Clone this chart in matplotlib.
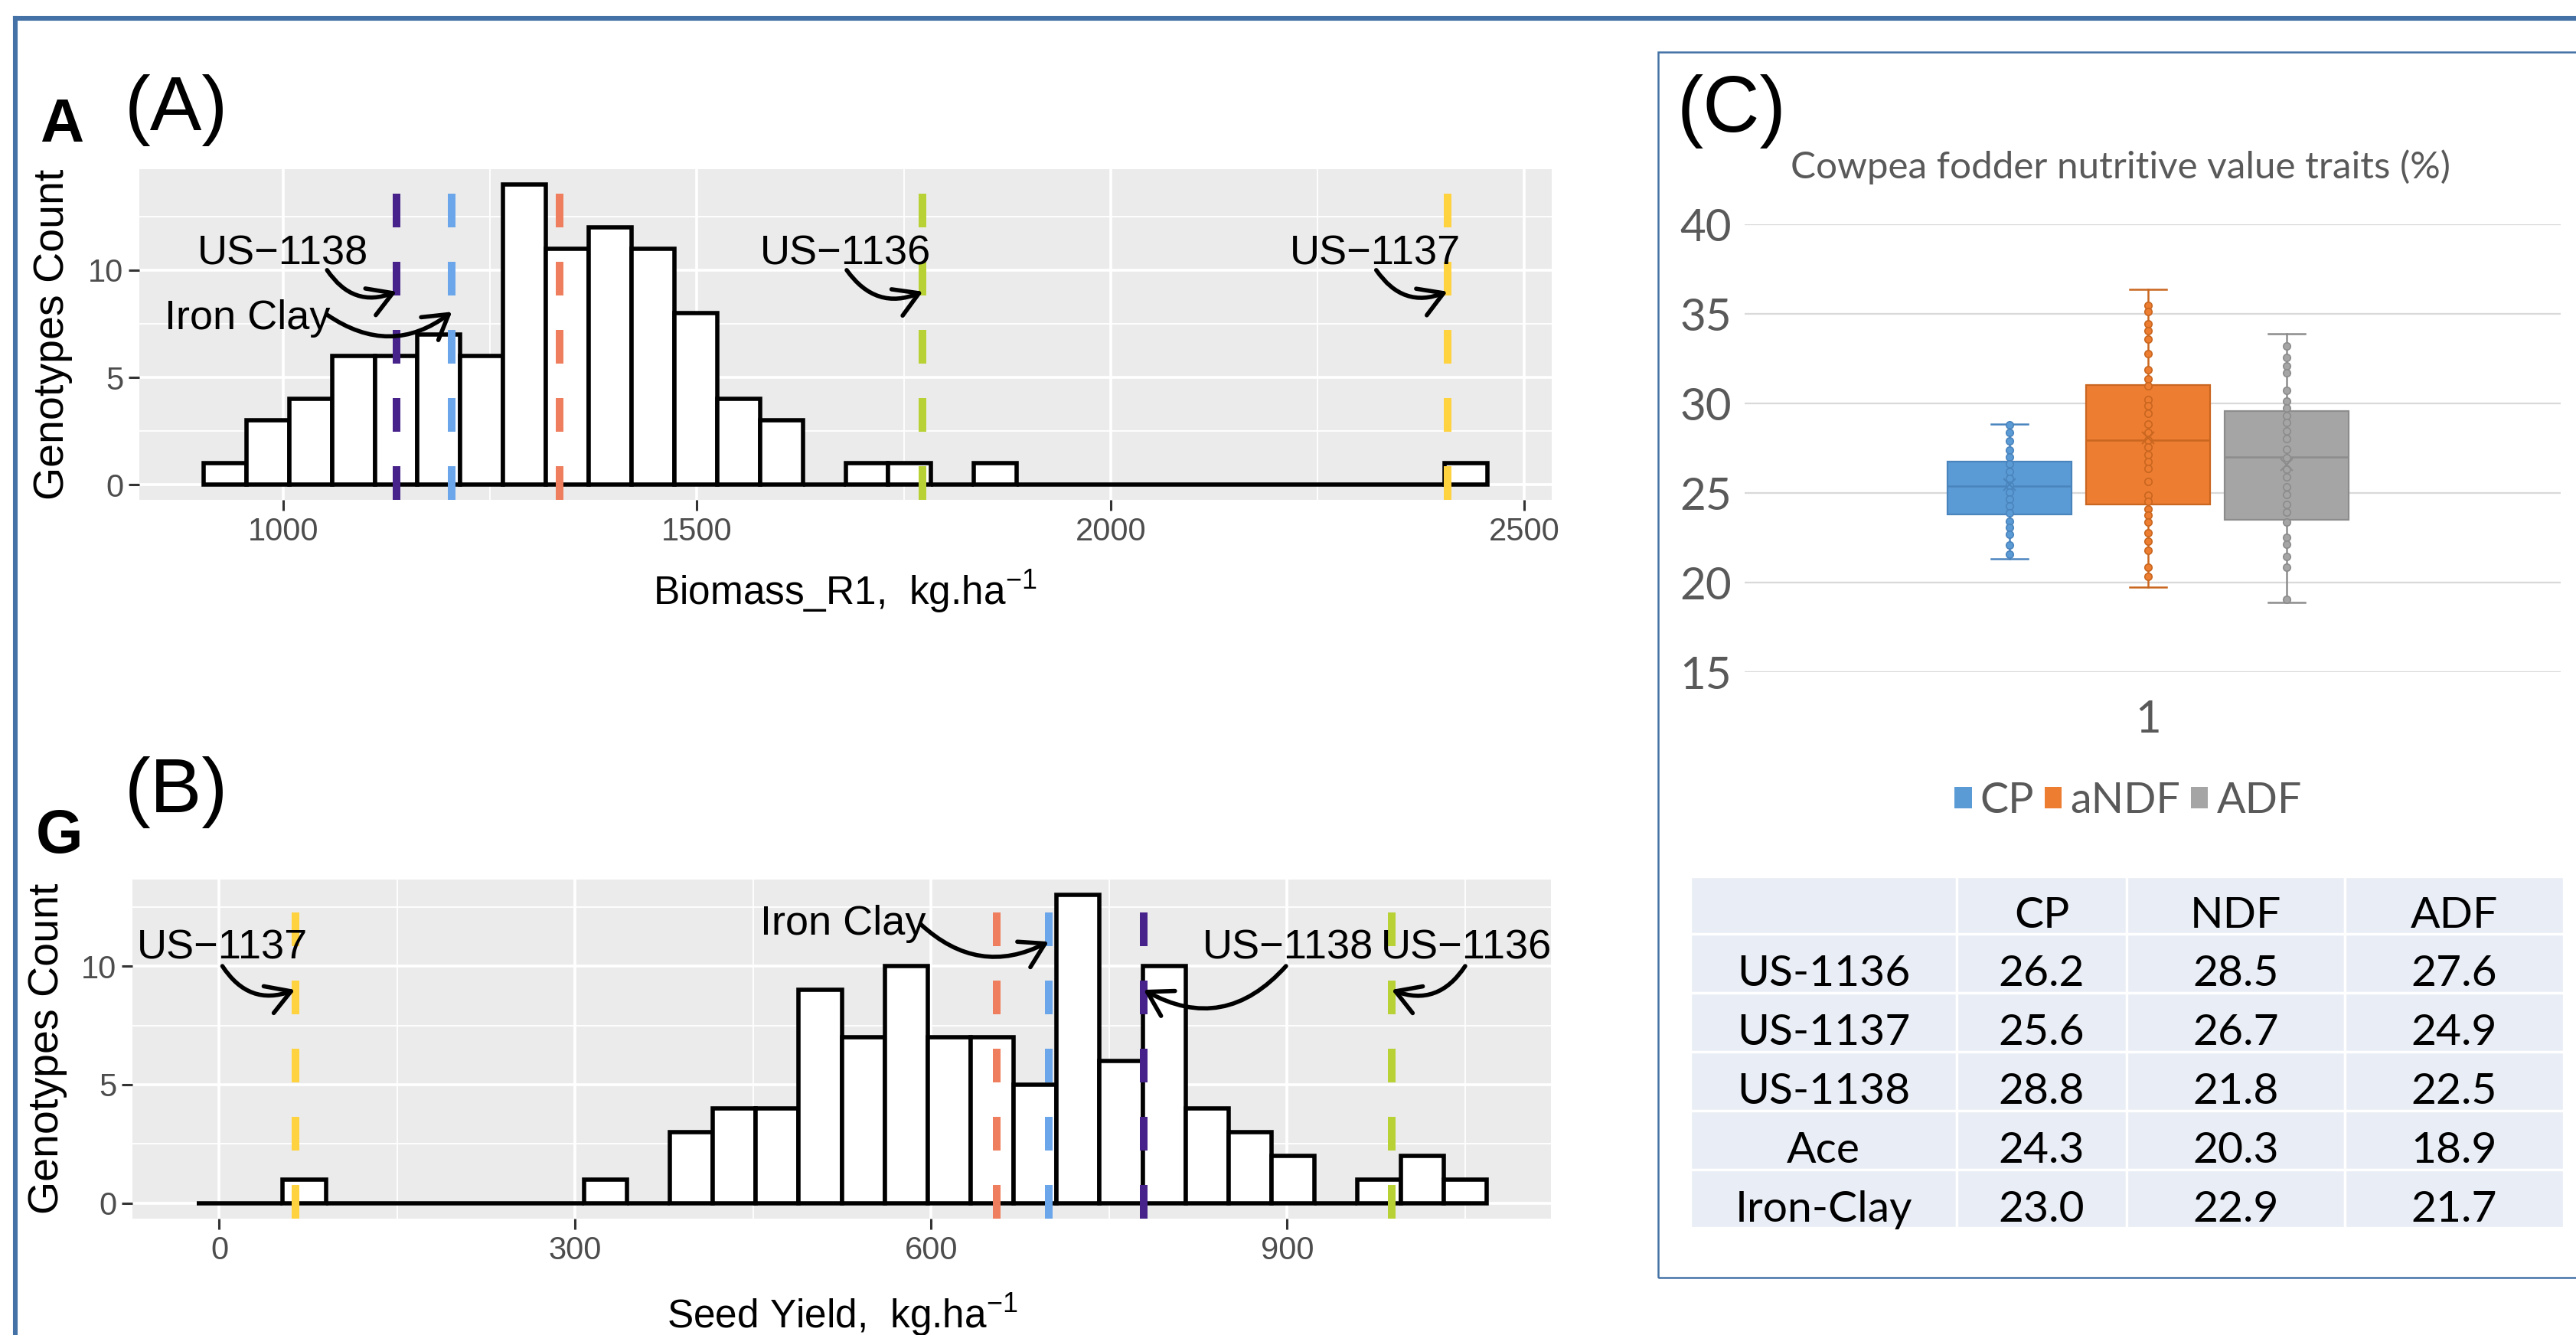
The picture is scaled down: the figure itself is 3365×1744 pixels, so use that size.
import numpy as np
import matplotlib
matplotlib.use("Agg")
import matplotlib.pyplot as plt
from matplotlib.patches import Rectangle, Patch
from matplotlib.lines import Line2D

plt.rcParams['font.family'] = ['Liberation Sans', 'DejaVu Sans']
plt.rcParams['mathtext.fontset'] = 'custom'
plt.rcParams['mathtext.rm'] = 'Liberation Sans'
plt.rcParams['mathtext.it'] = 'Liberation Sans:italic'
plt.rcParams['mathtext.bf'] = 'Liberation Sans:bold'

# ---- data -------------------------------------------------------------
genotypes = ['US-1136', 'US-1137', 'US-1138', 'Ace', 'Iron Clay']
genotype_colors = ['#B8D235', '#FFD23F', '#46228A', '#EE7E5D', '#6CA6EA']
biomass_checks = [1773, 2407, 1137, 1334, 1204]
seed_checks = [988, 64, 779, 655, 699]

biomass_start, biomass_width = 903.7, 51.73
biomass_counts = [1, 3, 4, 6, 6, 7, 6, 14, 11, 12, 11, 8, 4, 3, 0,
                  1, 1, 0, 1, 0, 0, 0, 0, 0, 0, 0, 0, 0, 0, 1]
seed_start, seed_width = -18.9, 36.23
seed_counts = [0, 0, 1, 0, 0, 0, 0, 0, 0, 1, 0, 3, 4, 4, 9,
               7, 10, 7, 7, 5, 13, 6, 10, 4, 3, 2, 0, 1, 2, 1]

# annotation: label, text x, text y (baseline), arrow start, arrow end, curvature
biomass_notes = [
    ('US\u22121138', 1000, 10.25, (1053, 10.0), (1137, 9.0), 0.4),
    ('Iron Clay', 957, 7.24, (1053, 7.92), (1204, 8.06), 0.36),
    ('US\u22121136', 1680, 10.25, (1681, 10.0), (1773, 9.0), 0.4),
    ('US\u22121137', 2320, 10.25, (2321, 10.0), (2407, 9.0), 0.4),
]
seed_notes = [
    ('US\u22121137', 2.6, 10.31, (2.6, 10.0), (63.7, 9.0), 0.4),
    ('Iron Clay', 525.8, 11.32, (591, 11.77), (699, 11.03), 0.35),
    ('US\u22121138', 900.9, 10.31, (899, 10.0), (779, 9.0), -0.4),
    ('US\u22121136', 1050.8, 10.31, (1050, 10.0), (988, 9.0), -0.4),
]

fodder_traits = ['CP', 'aNDF', 'ADF']
fodder_colors = ['#5B9BD5', '#ED7D31', '#A5A5A5']
fodder_edges = ['#4A84BD', '#C9661F', '#8C8C8C']
cp_stats = dict(whislo=21.35, q1=23.80, med=25.38, q3=26.78, whishi=28.86, mean=25.47)
andf_stats = dict(whislo=19.76, q1=24.35, med=27.96, q3=31.05, whishi=36.37, mean=28.10)
adf_stats = dict(whislo=18.88, q1=23.51, med=27.00, q3=29.60, whishi=33.92, mean=26.60)
cp_points = [28.80, 28.40, 27.93, 27.39, 27.01, 26.63, 26.21, 25.81, 25.44, 25.06,
             24.68, 24.28, 23.89, 23.42, 23.07, 22.68, 22.09, 21.60]
andf_points = [35.50, 35.16, 34.45, 34.09, 33.62, 32.78, 31.91, 31.38, 31.00, 30.23,
               29.89, 29.46, 28.86, 28.39, 27.96, 27.56, 27.15, 26.75, 26.39, 25.65,
               24.89, 24.54, 24.11, 23.76, 23.40, 22.80, 22.30, 21.80, 20.86, 20.36]
adf_points = [33.21, 32.59, 32.12, 31.71, 30.74, 30.13, 29.74, 29.34, 28.93, 28.49,
              28.03, 27.43, 26.96, 26.32, 25.89, 25.35, 24.94, 24.35, 23.93, 23.40,
              22.51, 22.16, 21.47, 20.86, 19.05]

table_header = ['', 'CP', 'NDF', 'ADF']
table_rows = ['US-1136', 'US-1137', 'US-1138', 'Ace', 'Iron-Clay']
table_cp = [26.2, 25.6, 28.8, 24.3, 23.0]
table_ndf = [28.5, 26.7, 21.8, 20.3, 22.9]
table_adf = [27.6, 24.9, 22.5, 18.9, 21.7]

# ---- figure ------------------------------------------------------------
W, H = 3365, 1744
fig = plt.figure(figsize=(W / 200, H / 200), dpi=200)


def fx(px):
    return px / W


def fy(py):
    return 1 - py / H


def add_ax(x0, y0, x1, y1):
    return fig.add_axes([x0 / W, 1 - y1 / H, (x1 - x0) / W, (y1 - y0) / H])


def draw_hist(ax, start, width, counts, checks, notes, xlim, ylim, xmajor, xminor):
    ax.set_facecolor('#EBEBEB')
    for s in ax.spines.values():
        s.set_visible(False)
    edges = start + width * np.arange(len(counts))
    ax.bar(edges, counts, width=width, align='edge', color='white',
           edgecolor='black', linewidth=2.0, zorder=2)
    for x, c in zip(checks, genotype_colors):
        ax.axvline(x, color=c, lw=3.6, linestyle=(0, (4.4, 4.5)), zorder=3)
    for label, tx, ty, a0, a1, rad in notes:
        ax.text(tx, ty, label, ha='center', va='baseline', fontsize=19.5, zorder=6)
        ax.annotate('', xy=a1, xytext=a0, zorder=6,
                    arrowprops=dict(arrowstyle='->,head_length=0.4,head_width=0.24',
                                    connectionstyle=f'arc3,rad={rad}', lw=2.0,
                                    color='black', shrinkA=0, shrinkB=0,
                                    mutation_scale=28))
    ax.set_xlim(xlim)
    ax.set_ylim(ylim)
    ax.set_xticks(xmajor)
    ax.set_xticks(xminor, minor=True)
    ax.set_yticks([0, 5, 10])
    ax.set_yticks([2.5, 7.5, 12.5], minor=True)
    ax.set_axisbelow(True)
    ax.grid(which='major', color='white', lw=1.3)
    ax.grid(which='minor', color='white', lw=0.65)
    ax.tick_params(which='major', length=5, width=1.1, color='#333333',
                   labelsize=15, labelcolor='#4D4D4D')
    ax.tick_params(axis='x', pad=3)
    ax.tick_params(axis='y', pad=2.5)
    ax.tick_params(which='minor', length=0)


# panel A
axA = add_ax(182, 221, 2027, 653)
draw_hist(axA, biomass_start, biomass_width, biomass_counts, biomass_checks,
          biomass_notes, (826.1, 2533.1), (-0.7, 14.7),
          [1000, 1500, 2000, 2500], [1250, 1750, 2250])

# panel B
axB = add_ax(173, 1149, 2026, 1592)
draw_hist(axB, seed_start, seed_width, seed_counts, seed_checks,
          seed_notes, (-73.2, 1122.3), (-0.65, 13.65),
          [0, 300, 600, 900], [150, 450, 750, 1050])

fig.text(fx(1104), fy(790), 'Biomass_R1,  kg.ha$^{-1}$', ha='center', va='baseline', fontsize=18.5)
fig.text(fx(1100), fy(1735), 'Seed Yield,  kg.ha$^{-1}$', ha='center', va='baseline', fontsize=18.5)
fig.text(fx(69), fy(437), 'Genotypes Count', rotation=90, ha='center', va='center', fontsize=20)
fig.text(fx(62), fy(1370), 'Genotypes Count', rotation=90, ha='center', va='center', fontsize=20)
fig.text(fx(52), fy(185), 'A', fontweight='bold', fontsize=28.5, va='baseline')
fig.text(fx(47), fy(1114), 'G', fontweight='bold', fontsize=28.5, va='baseline')
fig.text(fx(163), fy(170), '(A)', fontsize=36.5, va='baseline')
fig.text(fx(163), fy(1061), '(B)', fontsize=36.5, va='baseline')
fig.text(fx(2191), fy(172), '(C)', fontsize=37, va='baseline')

# panel C box plot
axC = add_ax(2279, 293.5, 3345, 878)
for s in axC.spines.values():
    s.set_visible(False)
stats = [cp_stats, andf_stats, adf_stats]
points = [cp_points, andf_points, adf_points]
positions = [-1, 0, 1]
bp = axC.bxp([dict(s) for s in stats], positions=positions, widths=0.895,
             capwidths=0.265, showmeans=True, showfliers=False, patch_artist=True)
for i in range(3):
    face, edge = fodder_colors[i], fodder_edges[i]
    bp['boxes'][i].set(facecolor=face, edgecolor=edge, linewidth=0.8, zorder=2)
    bp['medians'][i].set(color=edge, linewidth=0.9, zorder=3)
    for ln in bp['whiskers'][2 * i:2 * i + 2] + bp['caps'][2 * i:2 * i + 2]:
        ln.set(color=edge, linewidth=0.9, zorder=1)
    bp['means'][i].set(marker='x', markersize=6, markeredgecolor=edge,
                       markeredgewidth=0.7, zorder=5)
    axC.plot(np.full(len(points[i]), positions[i]), points[i], 'o', ms=3.4,
             mfc=face, mec=edge, mew=0.6, zorder=4)
axC.set_ylim(15, 40)
axC.set_xlim(-2.91, 2.98)
axC.set_yticks(range(15, 41, 5))
axC.set_xticks([0])
axC.set_xticklabels(['1'])
axC.grid(axis='y', color='#D9D9D9', lw=0.8)
axC.set_axisbelow(True)
axC.tick_params(length=0, labelsize=21, labelcolor='#595959')
axC.tick_params(axis='y', pad=6)
axC.tick_params(axis='x', pad=13)
for t in axC.get_xticklabels() + axC.get_yticklabels():
    t.set_family('Lato')
fig.text(fx(2770), fy(233), 'Cowpea fodder nutritive value traits (%)', ha='center',
         va='baseline', fontsize=17.8, color='#595959', family='Lato')
handles = [Patch(facecolor=c, edgecolor='none') for c in fodder_colors]
leg = axC.legend(handles, fodder_traits, loc='center', bbox_to_anchor=(fx(2780), fy(1046)),
                 bbox_transform=fig.transFigure, ncol=3, frameon=False,
                 prop={'family': 'Lato', 'size': 20}, handlelength=0.4,
                 handleheight=0.4, handletextpad=0.2, columnspacing=0.25)
for t in leg.get_texts():
    t.set_color('#595959')

# table
col_edges = [2208, 2556, 2778, 3063, 3349]
row_edges = [1145, 1220, 1297, 1374, 1451, 1528, 1604]
axT = add_ax(col_edges[0], row_edges[0], col_edges[-1], row_edges[-1])
axT.set_xlim(col_edges[0], col_edges[-1])
axT.set_ylim(row_edges[-1], row_edges[0])
axT.axis('off')
cells = [table_header] + [[r, f'{a:.1f}', f'{b:.1f}', f'{c:.1f}']
                          for r, a, b, c in zip(table_rows, table_cp, table_ndf, table_adf)]
for r, row in enumerate(cells):
    for c, val in enumerate(row):
        x0, x1 = col_edges[c], col_edges[c + 1]
        y0, y1 = row_edges[r], row_edges[r + 1]
        axT.add_patch(Rectangle((x0, y0), x1 - x0, y1 - y0, facecolor='#E9EDF5',
                                edgecolor='white', lw=1.2))
        axT.text((x0 + x1) / 2, (y0 + y1) / 2 + 14, val, ha='center', va='center',
                 fontsize=20.5, family='Lato', color='black')

# borders
bc = '#4472A6'
fig.add_artist(Line2D([fx(20), 1], [fy(24), fy(24)], color=bc, lw=2.2))
fig.add_artist(Line2D([fx(20), fx(20)], [fy(24), 0], color=bc, lw=2.2))
fig.add_artist(Rectangle((fx(2166), fy(1669)), 1.0, (1669 - 68) / H, transform=fig.transFigure,
                         fill=False, edgecolor=bc, lw=0.9))

fig.savefig('out.png', dpi=200)
